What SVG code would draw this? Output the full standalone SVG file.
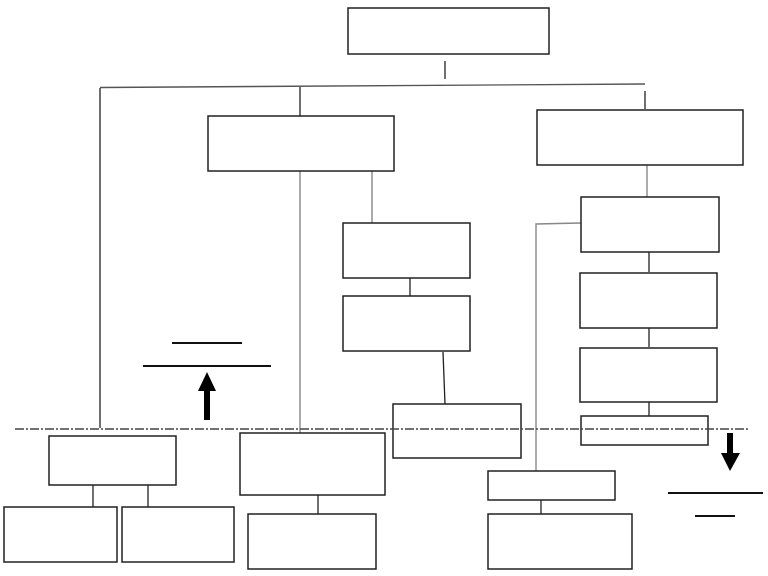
<svg xmlns="http://www.w3.org/2000/svg" width="768" height="576" viewBox="0 0 768 576">
<style>
.box{fill:#fff;stroke:#222;stroke-width:1.5}
.ln{stroke:#222;stroke-width:1.3;fill:none}
.gl{stroke:#888;stroke-width:1.4;fill:none}
.hl{stroke:#555;stroke-width:1.4;fill:none}
.bar{stroke:#111;stroke-width:1.8;fill:none}
.dd{stroke:#444;stroke-width:1.3;stroke-dasharray:9 2 2 2;fill:none}
.arr{fill:#000}
</style>
<rect width="768" height="576" fill="#fff"/>
<g id="connectors">
<line class="ln" x1="445" y1="61" x2="445" y2="79"/>
<polyline class="hl" points="100,87.5 645,84"/>
<line class="ln" x1="100" y1="88" x2="100" y2="428"/>
<line class="ln" x1="300" y1="87" x2="300" y2="116"/>
<line class="ln" x1="645" y1="91" x2="645" y2="109"/>
<line class="gl" x1="300" y1="171" x2="300" y2="433"/>
<line class="gl" x1="372" y1="171" x2="372" y2="223"/>
<line class="gl" x1="647" y1="165" x2="647" y2="197"/>
<line class="ln" x1="410" y1="278" x2="410" y2="296"/>
<line class="ln" x1="443" y1="352" x2="445" y2="404"/>
<polyline class="gl" points="581,223 536,224 536,471"/>
<line class="ln" x1="649" y1="252" x2="649" y2="272"/>
<line class="ln" x1="649" y1="328" x2="649" y2="347"/>
<line class="ln" x1="649" y1="402" x2="649" y2="418"/>
<line class="ln" x1="93" y1="485" x2="93" y2="507"/>
<line class="ln" x1="148" y1="485" x2="148" y2="507"/>
<line class="ln" x1="318" y1="495" x2="318" y2="514"/>
<line class="ln" x1="541" y1="500" x2="541" y2="514"/>
</g>
<g id="n-top"><rect class="box" x="348" y="8" width="201" height="46"/></g>
<g id="n-a"><rect class="box" x="208" y="116" width="186" height="55"/></g>
<g id="n-b"><rect class="box" x="537" y="110" width="206" height="55"/></g>
<g id="n-c"><rect class="box" x="343" y="223" width="127" height="55"/></g>
<g id="n-c2"><rect class="box" x="343" y="296" width="127" height="55"/></g>
<g id="n-i"><rect class="box" x="393" y="404" width="128" height="54"/></g>
<g id="n-j"><rect class="box" x="581" y="197" width="138" height="55"/></g>
<g id="n-k"><rect class="box" x="580" y="273" width="137" height="55"/></g>
<g id="n-l"><rect class="box" x="580" y="348" width="137" height="54"/></g>
<g id="n-m"><rect class="box" x="581" y="416" width="127" height="29"/></g>
<g id="n-d"><rect class="box" x="49" y="436" width="127" height="49"/></g>
<g id="n-e"><rect class="box" x="4" y="507" width="113" height="55"/></g>
<g id="n-f"><rect class="box" x="122" y="507" width="112" height="55"/></g>
<g id="n-g"><rect class="box" x="240" y="433" width="145" height="62"/></g>
<g id="n-h"><rect class="box" x="248" y="514" width="128" height="55"/></g>
<g id="n-n"><rect class="box" x="488" y="471" width="127" height="29"/></g>
<g id="n-o"><rect class="box" x="488" y="514" width="144" height="55"/></g>
<g id="markers">
<line class="dd" x1="15" y1="429" x2="750" y2="429"/>
<line class="bar" x1="172" y1="343" x2="242" y2="343"/>
<line class="bar" x1="143" y1="366" x2="271" y2="366"/>
<polygon class="arr" points="204,420 210,420 210,391 216,391 207,372 198,391 204,391"/>
<polygon class="arr" points="727,433 733,433 733,453 740,453 730,471 721,453 727,453"/>
<line class="bar" x1="668" y1="493" x2="763" y2="493"/>
<line class="bar" x1="695" y1="516" x2="735" y2="516"/>
</g>
</svg>
